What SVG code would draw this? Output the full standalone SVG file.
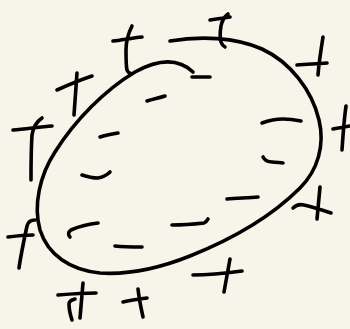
<svg xmlns="http://www.w3.org/2000/svg" width="350" height="329" viewBox="0 0 350 329">
<style>
path{fill:none;stroke:#000;stroke-width:3.6;stroke-linecap:round;stroke-linejoin:round}
</style>
<rect width="350" height="329" fill="#f7f5ea"/>
<g id="outline">
<path d="M170,41 C200,36 235,37 262,49 C290,62 312,90 319,120 C325,145 318,170 300,188 C270,218 230,240 190,256 C160,268 130,275 100,273 C70,270 48,255 40,230 C33,205 40,175 55,152 C75,120 105,90 135,72 C155,61 176,56 193,72"/>
</g>
<g id="plus-signs">
<path d="M13,130 C25,129 40,127 52,126 M42,118 C36,122 33,128 32,135 C31,150 31,165 31,180"/>
<path d="M57,90 C68,85 80,80 92,76 M77,73 C76,88 75,100 74,115"/>
<path d="M113,41 C122,40 132,38 142,37 M132,26 C128,34 126,42 126,50 C126,58 126,66 127,70 C128,72 129,73 130,73"/>
<path d="M210,20 C217,19 224,18 230,17 M228,14 C224,17 222,21 221,26 C220,32 220,38 221,42 C222,45 223,46 225,47"/>
<path d="M297,65 C307,64 317,64 327,63 M323,37 C321,50 319,62 318,75"/>
<path d="M333,129 C339,128 345,127 350,126 M346,106 C344,120 343,135 342,150"/>
<path d="M293,208 C296,205 300,204 304,205 C313,207 322,210 331,213 M320,187 C319,198 318,208 317,219"/>
<path d="M193,275 C205,275 220,274 242,271 M230,259 C228,270 226,281 224,292"/>
<path d="M123,302 C131,300 139,299 147,298 M138,289 C139,298 141,308 143,317"/>
<path d="M58,295 C70,294 83,293 96,293 M83,283 C82,295 81,306 80,318 M72,320 C70,314 69,309 69,304 C69,301 71,300 75,299"/>
<path d="M8,237 C16,236 25,235 33,235 M35,220 C31,220 28,222 27,226 C24,240 21,254 19,268"/>
</g>
<g id="minus-signs">
<path d="M192,77 L210,77"/>
<path d="M147,101 C153,99 159,98 165,96"/>
<path d="M100,137 C106,135 112,134 118,133"/>
<path d="M82,175 C88,177 93,178 98,178 C103,177 107,175 110,172"/>
<path d="M70,237 C68,235 68,232 71,230 C78,227 88,224 98,223"/>
<path d="M115,246 C124,247 133,247 142,247"/>
<path d="M172,225 C183,225 195,224 204,223 C206,222 207,221 208,219"/>
<path d="M227,199 C237,198 248,198 258,197"/>
<path d="M263,157 C265,161 268,162 272,162 C276,162 280,163 283,163"/>
<path d="M262,123 C270,120 276,119 283,119 C290,119 296,120 301,121"/>
</g>
</svg>
